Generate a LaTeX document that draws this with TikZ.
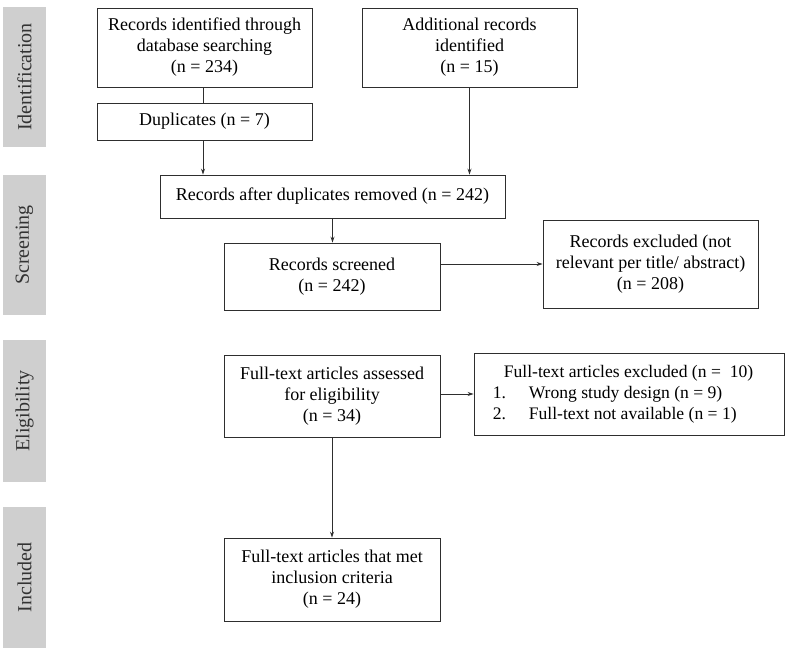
\documentclass[tikz,border=0pt]{standalone}
\usepackage{fontspec}
\setmainfont{Liberation Serif}
\usetikzlibrary{arrows.meta}
\definecolor{linec}{HTML}{2E2E2E}
\definecolor{sidec}{HTML}{CFCFCF}
\definecolor{textc}{HTML}{333333}
\tikzset{
  x=1pt, y=-1pt,
  flowbox/.style={draw=linec, line width=0.9pt, align=center, inner sep=2pt,
    font=\fontsize{18}{21}\selectfont, text=black},
  sidebox/.style={fill=sidec, minimum width=43pt, inner sep=0pt,
    font=\fontsize{20}{24}\selectfont, text=textc},
  conn/.style={draw=linec, line width=0.9pt},
  arr/.style={conn, -{Stealth[length=6pt,width=4pt]}}
}
\begin{document}
\begin{tikzpicture}
\useasboundingbox (0,0) rectangle (790,651);
% side labels
\node[sidebox, minimum height=140pt] (sidA) at (24.5,77) {\rotatebox{90}{Identification}};
\node[sidebox, minimum height=140pt] (sidB) at (24.5,245) {\rotatebox{90}{Screening}};
\node[sidebox, minimum height=142pt] (sidC) at (24.5,411) {\rotatebox{90}{Eligibility}};
\node[sidebox, minimum height=141pt] (sidD) at (24.5,577.5) {\rotatebox{90}{Included}};
% boxes
\node[flowbox, minimum width=215pt, minimum height=79pt] (rec) at (204.5,47.5)
  {Records identified through\\database searching\\(n = 234)};
\node[flowbox, minimum width=215pt, minimum height=37pt] (dup) at (204.5,121.5)
  {Duplicates (n = 7)};
\node[flowbox, minimum width=215pt, minimum height=79pt] (add) at (469.5,47.5)
  {Additional records\\identified\\(n = 15)};
\node[flowbox, minimum width=345pt, minimum height=43pt] (after) at (332.5,196.5)
  {Records after duplicates removed (n = 242)};
\node[flowbox, minimum width=216pt, minimum height=67pt] (scr) at (332,276.5)
  {Records screened\\(n = 242)};
\node[flowbox, minimum width=215pt, minimum height=88pt] (exa) at (650.5,264)
  {Records excluded (not\\relevant per title/ abstract)\\(n = 208)};
\node[flowbox, minimum width=216pt, minimum height=82pt] (full) at (332,396)
  {Full-text articles assessed\\for eligibility\\(n = 34)};
\node[flowbox, minimum width=310pt, minimum height=82pt, align=left,
  font=\fontsize{17.6}{21}\selectfont] (exb) at (629,394)
  {{\renewcommand{\arraystretch}{1.0}%
   \begin{tabular}{@{}p{36pt}@{}l@{}}
   \multicolumn{2}{@{}l@{}}{\hspace*{11pt}Full-text articles excluded (n = \ 10)}\\
   1. & Wrong study design (n = 9)\\
   2. & Full-text not available (n = 1)
   \end{tabular}}\hspace*{12pt}};
\node[flowbox, minimum width=216pt, minimum height=83pt] (inc) at (332,579.5)
  {Full-text articles that met\\inclusion criteria\\(n = 24)};
% connectors
\draw[conn] ([xshift=-1.5pt]rec.south) -- ([xshift=-1.5pt]dup.north);
\draw[arr] ([xshift=-1.5pt]dup.south) -- ([xshift=-1.5pt]dup.south |- after.north);
\draw[arr] (add.south) -- (add.south |- after.north);
\draw[arr] (after.south) -- (after.south |- scr.north);
\draw[arr] (scr.east |- exa.west) -- (exa.west);
\draw[arr] (full.east |- exb.west) -- (exb.west);
\draw[arr] (full.south) -- (inc.north);
\end{tikzpicture}
\end{document}
